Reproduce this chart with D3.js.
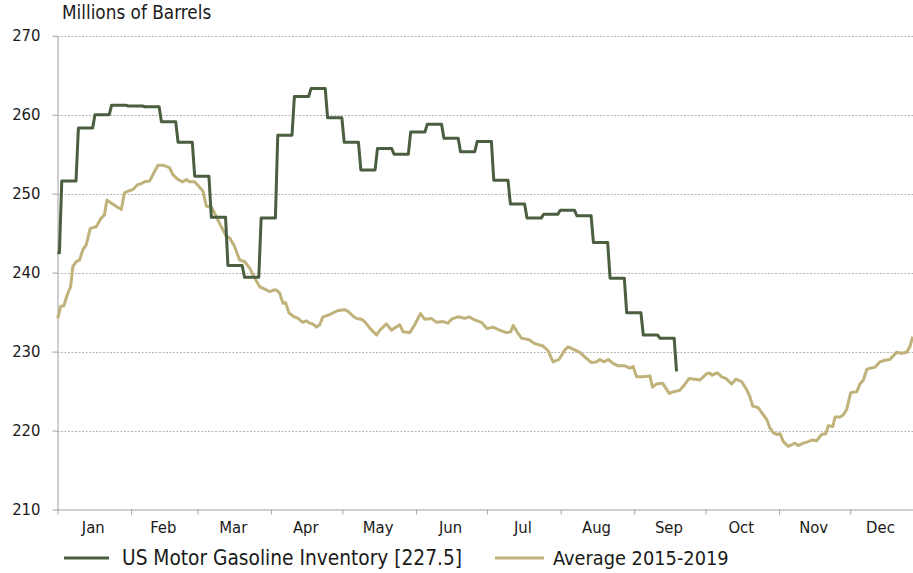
<!DOCTYPE html>
<html>
<head>
<meta charset="utf-8">
<script src="https://cdn.jsdelivr.net/npm/d3@7"></script>
<style>
  html, body { margin: 0; padding: 0; background: #fff; }
  svg { display: block; }
  text { font-family: "DejaVu Sans Condensed", "DejaVu Sans", sans-serif; fill: #1a1a1a; }
</style>
</head>
<body>
<div id="chart"></div>
<script>
// ---------- data ----------
const months = ["Jan","Feb","Mar","Apr","May","Jun","Jul","Aug","Sep","Oct","Nov","Dec"];
const monthStartDays = [0,31,59,90,120,151,181,212,243,273,304,334];
const axisEndDay = 360.3;
const yTicks = [210,220,230,240,250,260,270];

// US Motor Gasoline Inventory, weekly (first value holds until the first report)
const gasFirstReportDay = 0.8;
const gasValues = [242.5,251.6,258.3,260.0,261.2,261.1,261.0,259.1,256.5,252.2,
  247.0,240.9,239.4,246.9,257.4,262.3,263.3,259.6,256.5,253.0,
  255.7,255.0,257.8,258.8,257.0,255.3,256.6,251.7,248.7,246.9,
  247.4,247.9,247.2,243.8,239.3,234.9,232.1,231.7,227.5];

// Average 2015-2019 (day of year, value)
const avgDays = [0.1,1.3,2.7,4.1,5.5,6.5,7.9,9.3,10.7,12.1,13.8,16.3,18.4,19.8,20.8,22.6,24.7,26.9,28.2,29.6,
  31.7,33.6,35.5,36.7,38.8,40.9,42.3,44.4,47.2,48.6,50.7,52.8,54.3,55.6,57.8,59.9,61.3,62.7,64.8,66.9,
  69.0,71.1,72.5,74.6,76.7,78.8,80.9,83.1,85.2,87.3,89.4,91.2,92.2,93.6,95.0,96.1,97.5,99.2,101.3,103.4,
  104.8,106.2,107.6,109.1,110.5,111.8,114.0,116.1,118.2,121.0,122.4,124.5,125.9,128.0,129.4,131.5,134.4,135.8,138.6,140.7,
  142.1,144.2,145.6,148.4,150.5,152.9,154.7,157.5,159.7,162.4,164.5,166.0,168.8,171.6,173.4,175.8,178.6,181.0,183.5,186.3,
  189.2,190.9,192.0,193.6,195.5,198.7,201.1,204.6,206.7,208.8,211.3,213.7,215.1,217.2,220.1,222.6,225.0,227.1,228.5,230.2,
  232.0,234.1,236.2,239.0,241.1,242.5,244.0,246.8,249.6,250.7,252.4,254.9,257.7,259.4,262.2,263.9,266.1,268.5,270.7,273.5,
  274.9,275.6,278.0,279.8,281.6,284.0,285.8,288.2,290.3,291.7,292.9,295.2,297.3,298.8,300.2,301.6,303.3,304.4,305.8,307.9,
  309.3,310.7,312.1,314.2,316.3,317.7,319.8,321.9,323.7,324.7,326.6,327.6,329.7,331.1,332.5,334.2,336.7,338.1,339.5,340.9,
  342.3,344.4,346.5,348.6,350.7,353.5,355.6,357.7,359.1,360.3];
const avgValues = [234.2,235.7,235.8,237.2,238.2,240.8,241.4,241.6,242.9,243.5,245.6,245.8,246.9,247.3,249.2,248.8,248.4,248.0,250.1,250.3,
  250.5,251.1,251.3,251.5,251.6,252.8,253.6,253.6,253.3,252.4,251.8,251.5,251.8,251.5,251.5,250.8,250.3,248.4,248.3,247.1,
  245.8,244.6,244.4,243.3,241.6,241.4,240.6,239.3,238.2,237.9,237.6,237.8,237.8,237.4,236.1,236.2,234.9,234.5,234.2,233.7,
  233.9,233.6,233.5,233.1,233.4,234.4,234.6,234.9,235.2,235.3,235.1,234.5,234.2,234.1,233.8,233.0,232.1,232.7,233.5,232.7,
  233.0,233.4,232.5,232.4,233.4,234.8,234.1,234.2,233.7,233.8,233.6,234.1,234.4,234.2,234.4,234.0,233.7,232.9,233.1,232.7,
  232.4,232.5,233.3,232.5,231.7,231.5,231.0,230.7,230.1,228.7,229.0,230.2,230.6,230.3,229.9,229.2,228.6,228.7,229.0,228.7,
  229.0,228.5,228.2,228.2,227.9,228.1,226.8,226.8,226.9,225.5,225.9,226.0,224.7,224.9,225.1,225.7,226.6,226.5,226.4,227.2,
  227.3,227.0,227.3,226.8,226.6,225.9,226.5,226.2,225.2,224.3,223.1,222.9,222.0,221.4,220.3,219.7,219.5,219.6,218.6,218.0,
  218.2,218.4,218.1,218.4,218.6,218.8,218.7,219.5,219.6,220.6,220.5,221.7,221.7,222.0,222.7,224.8,224.9,225.9,226.4,227.7,
  227.9,228.0,228.7,228.9,229.0,229.9,229.8,229.9,230.6,231.9];

const seriesNames = ["US Motor Gasoline Inventory [227.5]", "Average 2015-2019"];
const seriesColors = ["#4a5e40", "#bfb27a"];
const titleText = "Millions of Barrels";

// ---------- chart ----------
const W = 913, H = 573;
const plotLeft = 57.5, plotRight = 912.7, plotTop = 35.7, plotBottom = 509.5;

const svg = d3.select("#chart").append("svg").attr("width", W).attr("height", H);

const x = d3.scaleLinear().domain([0, axisEndDay]).range([plotLeft, plotRight]);
const y = d3.scaleLinear().domain([210, 270]).range([plotBottom, plotTop]);

// gridlines
svg.append("g").selectAll("line")
  .data(yTicks.filter(t => t > 210))
  .join("line")
  .attr("x1", plotLeft).attr("x2", W)
  .attr("y1", d => Math.round(y(d)) + 0.5).attr("y2", d => Math.round(y(d)) + 0.5)
  .attr("stroke", "#b4b4b4").attr("stroke-width", 1).attr("stroke-dasharray", "2,1.5");

// y axis
const yAxis = svg.append("g").attr("transform", `translate(${plotLeft},0)`)
  .call(d3.axisLeft(y).tickValues(yTicks).tickSize(5).tickSizeOuter(0).tickPadding(12).tickFormat(d3.format("d")));
yAxis.select(".domain").attr("stroke", "#a0a0a0");
yAxis.selectAll(".tick line").attr("stroke", "#a0a0a0");
yAxis.selectAll("text").attr("font-size", 16.5).attr("fill", "#1a1a1a")
  .style("font-family", '"DejaVu Sans Condensed", "DejaVu Sans", sans-serif');

// x axis
const xAxis = svg.append("g").attr("transform", `translate(0,${plotBottom})`)
  .call(d3.axisBottom(x).tickValues(monthStartDays).tickSize(5).tickSizeOuter(0).tickFormat(""));
xAxis.select(".domain").attr("stroke", "#a0a0a0").attr("d", `M${plotLeft},0.5H${W}`);
xAxis.selectAll(".tick line").attr("stroke", "#a0a0a0");

const monthMid = monthStartDays.map((d, i) => (d + (i < 11 ? monthStartDays[i + 1] : axisEndDay)) / 2);
svg.append("g").selectAll("text")
  .data(months)
  .join("text")
  .attr("x", (d, i) => x(monthMid[i]) - 1)
  .attr("y", 533)
  .attr("text-anchor", "middle")
  .attr("font-size", 16.5)
  .text(d => d);

// average line
const avgData = avgDays.map((d, i) => [d, avgValues[i]]);
const line = d3.line().x(d => x(d[0])).y(d => y(d[1]));
svg.append("path")
  .datum(avgData)
  .attr("d", line)
  .attr("fill", "none")
  .attr("stroke", seriesColors[1])
  .attr("stroke-width", 3)
  .attr("stroke-linejoin", "round");

// gasoline weekly line (value holds for the week, then moves to the new report)
const gasPts = [[0, gasValues[0]]];
for (let i = 1; i < gasValues.length; i++) {
  const day = gasFirstReportDay + 7 * (i - 1);
  gasPts.push([day, gasValues[i - 1]]);
  gasPts.push([day + 1, gasValues[i]]);
}
svg.append("path")
  .datum(gasPts)
  .attr("d", line)
  .attr("fill", "none")
  .attr("stroke", seriesColors[0])
  .attr("stroke-width", 3)
  .attr("stroke-linejoin", "round");

// title
svg.append("text")
  .attr("x", 62).attr("y", 19)
  .attr("font-size", 18.8)
  .text(titleText);

// legend
const legendItems = [
  {lx1: 64, lx2: 109, tx: 122, fs: 20.7},
  {lx1: 495, lx2: 544, tx: 553, fs: 19.8}
];
const lg = svg.append("g");
legendItems.forEach((it, i) => {
  lg.append("line").attr("x1", it.lx1).attr("x2", it.lx2).attr("y1", 558).attr("y2", 558)
    .attr("stroke", seriesColors[i]).attr("stroke-width", 3);
  lg.append("text").attr("x", it.tx).attr("y", 564.5).attr("font-size", it.fs).text(seriesNames[i]);
});
</script>
</body>
</html>
